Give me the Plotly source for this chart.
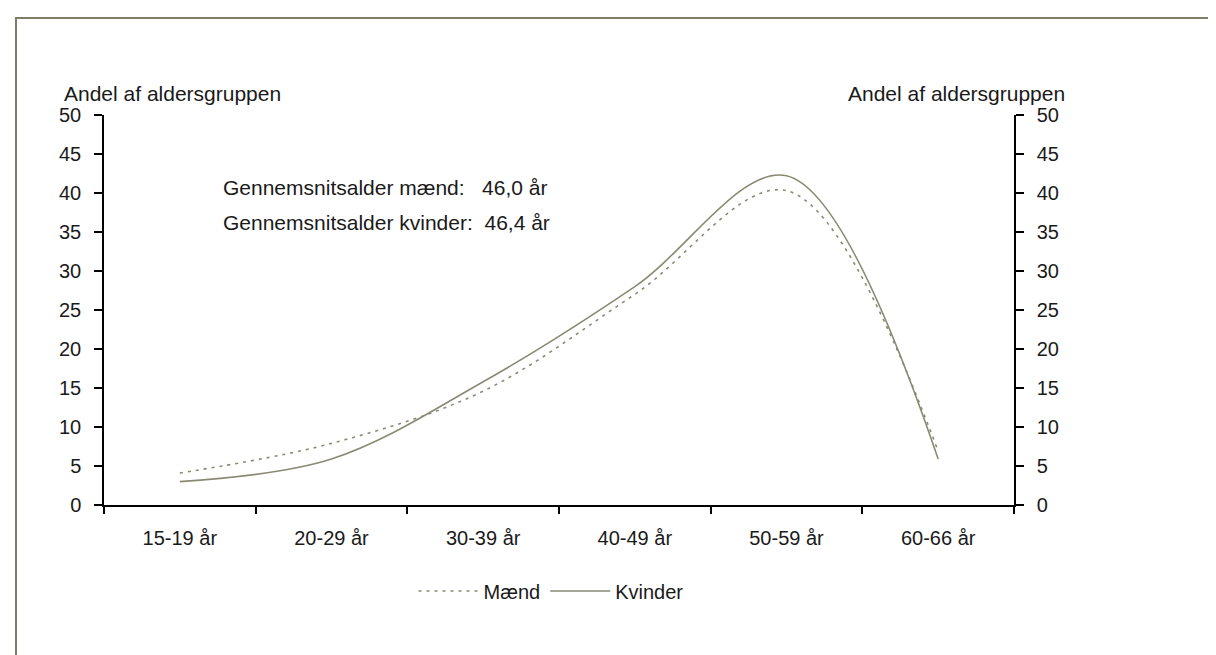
import plotly.graph_objects as go

# Data
age_groups = ["15-19 år", "20-29 år", "30-39 år", "40-49 år", "50-59 år", "60-66 år"]
maend = [4.1, 7.9, 14.6, 27.0, 40.3, 6.9]
kvinder = [3.0, 5.9, 15.8, 28.0, 42.2, 5.9]
y_ticks = [0, 5, 10, 15, 20, 25, 30, 35, 40, 45, 50]
axis_title = "Andel af aldersgruppen"
note_lines = ["Gennemsnitsalder mænd:\u00a0\u00a0\u00a046,0 år",
              "Gennemsnitsalder kvinder:\u00a0\u00a046,4 år"]

LINE_COL = "#8a8a74"
FONT = dict(family="Liberation Sans, Arial, sans-serif", size=21, color="#1a1a1a")
TICKFONT = dict(family="Liberation Sans, Arial, sans-serif", size=20, color="#1a1a1a")

W, H = 1216, 655
L, R, T, B = 96, 210, 107, 158
pw, ph = W - L - R, H - T - B

def px(xp):
    return (xp - L) / pw

def py(yp):
    return (H - B - yp) / ph

fig = go.Figure()
fig.add_trace(go.Scatter(x=age_groups, y=maend, name="Mænd", mode="lines",
                         line=dict(color=LINE_COL, width=1.6, dash="3px,5px", shape="spline", smoothing=1.0)))
fig.add_trace(go.Scatter(x=age_groups, y=kvinder, name="Kvinder", mode="lines",
                         line=dict(color=LINE_COL, width=1.6, shape="spline", smoothing=1.0)))
# invisible trace so the secondary (right) axis is drawn
fig.add_trace(go.Scatter(x=age_groups, y=kvinder, yaxis="y2", mode="lines", opacity=0,
                         line=dict(width=0), hoverinfo="skip", showlegend=False))

def axis_common(ticklen=8):
    return dict(showgrid=False, zeroline=False, showline=True, linecolor="black", linewidth=1.5,
                ticks="outside", ticklen=ticklen, tickwidth=1.5, tickcolor="black", tickfont=TICKFONT)

fig.update_layout(
    width=W, height=H,
    margin=dict(l=L, r=R, t=T, b=B),
    paper_bgcolor="white", plot_bgcolor="white",
    font=FONT,
    xaxis=dict(type="category", tickson="boundaries", range=[-0.5, 5.5], ticklabelstandoff=14,
               **axis_common(7)),
    yaxis=dict(range=[0, 50], tickvals=y_ticks, ticklabelstandoff=9, **axis_common()),
    yaxis2=dict(range=[0, 50], tickvals=y_ticks, overlaying="y", side="right", anchor="x",
                ticklabelstandoff=9, **axis_common()),
    legend=dict(orientation="h", x=px(543), y=py(583), xanchor="center", yanchor="middle",
                font=dict(FONT, size=20), itemwidth=60, bgcolor="rgba(0,0,0,0)"),
    showlegend=True,
    annotations=[
        dict(text=axis_title, xref="paper", yref="paper", x=px(54), y=py(86),
             xanchor="left", yanchor="middle", showarrow=False, font=FONT),
        dict(text=axis_title, xref="paper", yref="paper", x=px(1059), y=py(86),
             xanchor="right", yanchor="middle", showarrow=False, font=FONT),
        dict(text=note_lines[0], xref="paper", yref="paper", x=px(213), y=py(179),
             xanchor="left", yanchor="middle", showarrow=False, font=FONT),
        dict(text=note_lines[1], xref="paper", yref="paper", x=px(213), y=py(214),
             xanchor="left", yanchor="middle", showarrow=False, font=FONT),
    ],
    shapes=[dict(type="rect", xref="paper", yref="paper", x0=px(8), x1=px(1207), y0=py(720), y1=py(10),
                 line=dict(color="#7c7c68", width=2), layer="below")],
)

fig.write_html("out.html")
